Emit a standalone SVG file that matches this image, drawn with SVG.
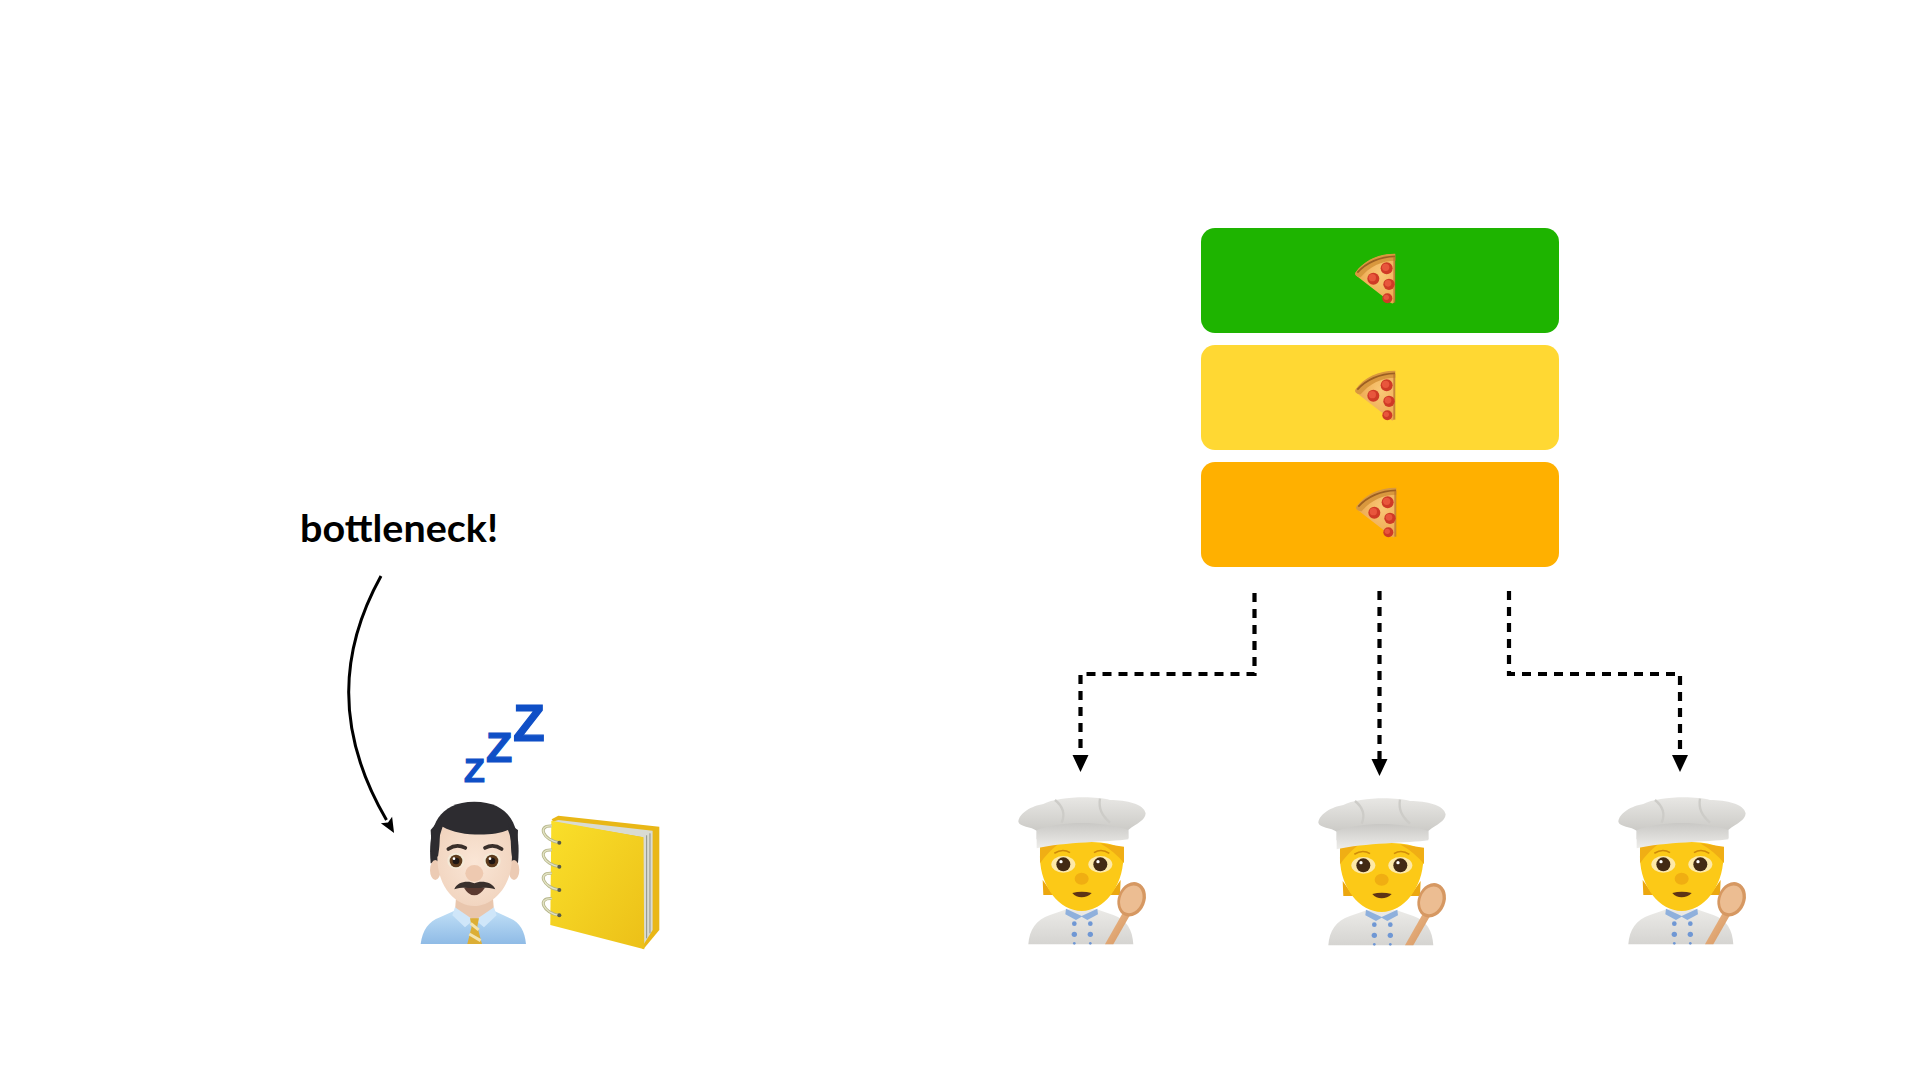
<svg xmlns="http://www.w3.org/2000/svg" xmlns:xlink="http://www.w3.org/1999/xlink" width="1920" height="1080" viewBox="0 0 1920 1080">
<style>
.box{stroke:none}
.dash{fill:none;stroke:#000;stroke-width:4.2;stroke-dasharray:9 7;marker-end:url(#tri)}
.zz{font-family:"Liberation Sans",Arial,sans-serif;font-weight:700;fill:#0f4fc6;stroke:#0f4fc6;stroke-width:1.2}
.label{font-family:Lato,"Liberation Sans",sans-serif;font-weight:700;font-size:38px;fill:#000}
</style>
<defs>
<marker id="tri" markerUnits="userSpaceOnUse" markerWidth="17" markerHeight="18" viewBox="0 -9 17 18" refX="0" refY="0" orient="auto"><path d="M0 -8L17 0L0 8Z" fill="#000"/></marker>
<marker id="tri2" markerUnits="userSpaceOnUse" markerWidth="16" markerHeight="14" viewBox="0 -7 16 14" refX="0" refY="0" orient="auto"><path d="M0 -6.500L15 0L0 6.500L3 0Z" fill="#000"/></marker>
<linearGradient id="hat" x1="0" y1="0" x2="0" y2="1"><stop offset="0" stop-color="#e8e7e4"/><stop offset="1" stop-color="#c4c3bf"/></linearGradient>
<linearGradient id="band" x1="0" y1="0" x2="0" y2="1"><stop offset="0" stop-color="#c9c8c5"/><stop offset="1" stop-color="#eeedea"/></linearGradient>
<linearGradient id="coat" x1="0" y1="0" x2="0" y2="1"><stop offset="0" stop-color="#ebeae7"/><stop offset="1" stop-color="#d5d4d1"/></linearGradient>
<linearGradient id="wood" x1="0" y1="0" x2="1" y2="1"><stop offset="0" stop-color="#eebc8e"/><stop offset="1" stop-color="#d3935c"/></linearGradient>
<linearGradient id="shirt" x1="0" y1="0" x2="0" y2="1"><stop offset="0" stop-color="#c0dff6"/><stop offset="1" stop-color="#8fbbe6"/></linearGradient>
<linearGradient id="cover" x1="0" y1="0" x2="1" y2="1"><stop offset="0" stop-color="#fadf2a"/><stop offset="1" stop-color="#ecc018"/></linearGradient>
<radialGradient id="face" cx=".5" cy=".45" r=".65"><stop offset="0" stop-color="#fae6d6"/><stop offset="1" stop-color="#f0d2bc"/></radialGradient>
<radialGradient id="cheese" cx=".65" cy=".4" r=".8"><stop offset="0" stop-color="#f9c876"/><stop offset="1" stop-color="#ea9f45"/></radialGradient>
<g id="pizza">
<path d="M48 96C72 62 120 42 165 42L165 175Q165 192 155 190Q148 188 140 178L50 108Q44 102 48 96Z" fill="url(#cheese)"/>
<path d="M46 98C72 60 120 40 166 41L166 62C125 62 88 80 62 112C54 112 42 106 46 98Z" fill="#d9983e"/>
<path d="M52 98C78 68 120 50 165 49" fill="none" stroke="#9c5f22" stroke-width="5"/>
<path d="M160 50L166 50L166 188L160 188Z" fill="#b5702c" opacity=".7"/>
<g fill="#cf3a26"><circle cx="140" cy="85" r="18"/><circle cx="100" cy="116" r="18"/><circle cx="147" cy="133" r="17"/><circle cx="142" cy="175" r="15"/></g>
<g fill="#e8563c"><circle cx="137" cy="82" r="11"/><circle cx="97" cy="113" r="11"/><circle cx="144" cy="130" r="10"/><circle cx="139" cy="172" r="8"/></g>
</g>
<g id="chef">
<path d="M85 493C88 450 108 418 150 405L200 388L290 388L340 405C380 418 398 450 400 493Z" fill="url(#coat)"/>
<path d="M198 386L245 408L292 386L294 403L262 420L245 410L228 420L196 403Z" fill="#8fb0dc"/>
<g fill="#6f97d4"><circle cx="223" cy="431" r="7"/><circle cx="271" cy="431" r="7"/><circle cx="223" cy="463" r="8"/><circle cx="271" cy="463" r="8"/><circle cx="223" cy="490" r="4"/><circle cx="271" cy="490" r="4"/></g>
<path d="M128 300L130 345L160 345ZM362 300L360 345L330 345Z" fill="#eca70f"/>
<path d="M120 235C122 320 178 393 245 393C312 393 368 320 370 235C372 195 330 185 245 185C160 185 118 195 120 235Z" fill="#fcc917"/>
<path d="M120 200L120 250Q145 215 178 190ZM372 200L372 250Q345 215 300 190Z" fill="#f0ae14"/>
<path d="M163 220Q188 204 210 218M282 218Q304 204 328 220" fill="none" stroke="#d08c0a" stroke-width="5"/>
<ellipse cx="190" cy="253" rx="36" ry="25" fill="#fde9a8"/><ellipse cx="301" cy="253" rx="36" ry="25" fill="#fde9a8"/>
<circle cx="190" cy="253" r="21" fill="#432a14"/><circle cx="301" cy="253" r="21" fill="#432a14"/>
<circle cx="183" cy="245" r="5" fill="#fff"/><circle cx="294" cy="245" r="5" fill="#fff"/>
<ellipse cx="245" cy="296" rx="21" ry="18" fill="#f0ae12"/>
<path d="M217 339Q245 332 275 339Q262 352 245 352Q228 352 217 339Z" fill="#5e3416"/>
<path d="M55 125C58 98 95 78 130 72C170 50 280 46 330 60C380 60 432 72 437 100C436 122 410 130 385 150L385 175L110 178L110 152C95 140 58 140 55 125Z" fill="url(#hat)"/>
<path d="M165 60C190 80 195 105 185 128M300 56C295 85 305 105 330 128" fill="none" stroke="#cdccc8" stroke-width="7"/>
<path d="M110 150C190 122 300 122 385 150L385 178C330 186 190 186 110 205Z" fill="url(#band)"/>
<path d="M315 493L372 392L392 402L340 493Z" fill="url(#wood)"/>
<ellipse cx="395" cy="358" rx="41" ry="53" transform="rotate(22 395 358)" fill="#d69862"/>
<ellipse cx="394" cy="358" rx="32" ry="43" transform="rotate(22 394 358)" fill="#ecbd92"/>
</g>
</defs>
<rect width="1920" height="1080" fill="#fff"/>

<g id="queue-green"><rect class="box" x="1201" y="228" width="358" height="105" rx="14" fill="#1eb400"/><use href="#pizza" transform="translate(1340 240) scale(.3333)"/></g>
<g id="queue-yellow"><rect class="box" x="1201" y="345" width="358" height="105" rx="14" fill="#ffd833"/><use href="#pizza" transform="translate(1340 357) scale(.3333)"/></g>
<g id="queue-orange"><rect class="box" x="1201" y="462" width="358" height="105" rx="14" fill="#ffb000"/><use href="#pizza" transform="translate(1341 474) scale(.3333)"/></g>

<g id="connectors">
<path class="dash" d="M1254.500 593V674H1080.500V755"/>
<path class="dash" d="M1379.500 591V759" style="stroke-dasharray:9 7 9 7 9 7 9 7 9 7 9 7 9 7 9 7 9 7 9 7 10"/>
<path class="dash" d="M1509 591V674H1680V755"/>
<path d="M381 576C340 650 334 730 386.500 820" fill="none" stroke="#000" stroke-width="3" marker-end="url(#tri2)"/>
</g>

<g id="label"><text class="label" x="300" y="542" textLength="198" lengthAdjust="spacingAndGlyphs">bottleneck!</text></g>

<g id="sleeping-man" transform="translate(280 490) scale(.3333)">
<path d="M452 1120C445 1040 455 935 583 935C710 935 722 1040 714 1120Z" fill="#2d2c30"/>
<ellipse cx="466" cy="1140" rx="16" ry="30" fill="#eccbb4"/><ellipse cx="702" cy="1140" rx="16" ry="30" fill="#eccbb4"/>
<path d="M422 1362C428 1320 445 1295 480 1282L525 1262L640 1262L690 1285C720 1297 735 1325 738 1362Z" fill="url(#shirt)"/>
<path d="M530 1200L637 1200L642 1262L583 1300L525 1262Z" fill="#e9c6ad"/>
<path d="M472 1100C472 1060 478 1040 488 1010C540 1040 640 1040 684 1020C692 1040 696 1060 696 1100C696 1195 635 1248 583 1248C531 1248 472 1195 472 1100Z" fill="url(#face)"/>
<path d="M490 975C472 1010 486 1040 474 1100L456 1090L452 1020ZM684 1000C696 1040 690 1060 696 1100L712 1090L714 1020Z" fill="#2d2c30"/>
<path d="M505 1077Q530 1060 556 1074M615 1074Q640 1060 665 1077" fill="none" stroke="#3a2f2a" stroke-width="11" stroke-linecap="round"/>
<ellipse cx="528" cy="1113" rx="26" ry="24" fill="#f3ead8"/><ellipse cx="636" cy="1113" rx="26" ry="24" fill="#f3ead8"/>
<circle cx="528" cy="1113" r="19" fill="#5d3b1c"/><circle cx="636" cy="1113" r="19" fill="#5d3b1c"/>
<circle cx="528" cy="1113" r="10" fill="#1e1613"/><circle cx="636" cy="1113" r="10" fill="#1e1613"/>
<circle cx="522" cy="1106" r="4" fill="#fff"/><circle cx="630" cy="1106" r="4" fill="#fff"/>
<ellipse cx="583" cy="1150" rx="27" ry="25" fill="#eec9b0"/>
<path d="M552 1193Q583 1186 615 1193Q600 1216 583 1216Q565 1216 552 1193Z" fill="#5b3a30"/>
<path d="M523 1198C530 1175 565 1170 583 1180C602 1170 638 1175 646 1198C620 1190 600 1194 583 1194C565 1194 545 1190 523 1198Z" fill="#3a302c"/>
<path d="M525 1252L581 1290L555 1312L517 1276ZM642 1252L586 1290L612 1312L650 1276Z" fill="#cfe6f9"/>
<path d="M570 1285L597 1285L592 1310L606 1362L562 1362L575 1310Z" fill="#dcae35"/>
<path d="M572 1300L596 1320M568 1332L602 1352" stroke="#f3e4ae" stroke-width="9" fill="none"/>
</g>

<g id="sleep-marks">
<text class="zz" x="513" y="741" font-size="52">Z</text>
<text class="zz" x="486" y="762" font-size="43">Z</text>
<text class="zz" x="464" y="782" font-size="34">Z</text>
</g>

<g id="notebook" transform="translate(280 490) scale(.3333)">
<path d="M815 988L835 977L1138 1010L1138 1320L1090 1378L1000 1300Z" fill="#e9b716"/>
<path d="M835 990L1118 1022L1118 1320L1090 1365L1090 1042L818 995Z" fill="#d9dbd2"/>
<path d="M1100 1036L1100 1345M1110 1030L1110 1330" stroke="#8f9388" stroke-width="3" fill="none"/>
<path d="M814 992L1090 1042L1093 1378L811 1305Z" fill="url(#cover)"/>
<g fill="none" stroke="#b5b58a" stroke-width="9">
<path d="M838 1058C790 1052 770 1005 815 1008"/><path d="M838 1130C790 1124 770 1077 815 1080"/><path d="M838 1200C790 1194 770 1147 815 1150"/><path d="M838 1276C790 1270 770 1223 815 1226"/>
</g>
<g fill="none" stroke="#e3e3c4" stroke-width="4">
<path d="M838 1058C790 1052 770 1005 815 1008"/><path d="M838 1130C790 1124 770 1077 815 1080"/><path d="M838 1200C790 1194 770 1147 815 1150"/><path d="M838 1276C790 1270 770 1223 815 1226"/>
</g>
<g fill="#5a5a45"><circle cx="838" cy="1058" r="6"/><circle cx="838" cy="1130" r="6"/><circle cx="838" cy="1200" r="6"/><circle cx="838" cy="1276" r="6"/></g>
</g>

<g id="cook-1"><use href="#chef" transform="translate(1000 780) scale(.3333)"/></g>
<g id="cook-2"><use href="#chef" transform="translate(1300 781) scale(.3333)"/></g>
<g id="cook-3"><use href="#chef" transform="translate(1600 780) scale(.3333)"/></g>
</svg>
